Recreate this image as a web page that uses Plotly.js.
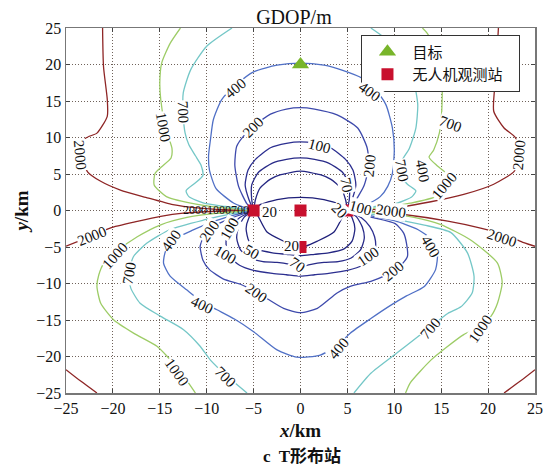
<!DOCTYPE html>
<html>
<head>
<meta charset="utf-8">
<script src="https://cdn.plot.ly/plotly-3.0.1.min.js"></script>
<style>html,body{margin:0;padding:0;background:#fff;}#chart{width:551px;height:466px;}</style>
</head>
<body>
<div id="chart"></div>
<script>
// ---- Stations and target (km) ----
const stationX = [-5, 0, 5, 0];
const stationY = [0, 0, 0, -5];
const targetX = [0];
const targetY = [20];

// ---- Contour lines: [x, y] in km ----
// GDOP = 2000
const c2000_UL = [[-21.1,25],[-21.0,19.7],[-20.6,15.2],[-20.6,12.9],[-21.7,10.6],[-22.9,9.9],[-23.3,7.6],[-22.7,5.3],[-21.3,4.0],[-19.2,2.8],[-16.5,1.8],[-13.6,0.8],[-11,0.35],[-8,0.1],[-5,0]];
const c2000_LL = [[-25,-4.9],[-22.5,-3.6],[-20.3,-2.4],[-17.4,-1.5],[-14.9,-0.8],[-12.5,-0.36],[-9,-0.1],[-5,0]];
const c2000_BL = [[-25,-21.8],[-23.4,-23.4],[-21.7,-25]];
const c2000_UR = [[21.1,25],[20.8,18.2],[20.6,13.6],[21.7,11.3],[22.9,10.0],[23.3,7.6],[22.8,5.4],[20.6,3.6],[17.4,2.2],[13.9,1.2],[10.7,0.5],[8,0.15],[5,0]];
const c2000_LR = [[5,0],[8,-0.2],[11.0,-0.55],[15.7,-1.45],[19.2,-2.4],[22,-3.4],[23.8,-4.4],[25,-4.9]];
const c2000_BR = [[21.7,-25],[23.4,-23.4],[25,-21.8]];
// GDOP = 1000
const c1000_UL = [[-12.8,25],[-13.9,22.9],[-14.8,20.2],[-15.0,17.5],[-14.9,15.2],[-14.5,12],[-14.0,9.8],[-13.7,8.5],[-13.8,7.2],[-14.8,6.0],[-15.5,5.1],[-15.6,3.5],[-14.3,1.9],[-11.7,1.0],[-9,0.45],[-5,0]];
const c1000_LL = [[-5,0],[-9,-0.4],[-12.1,-0.95],[-14.9,-1.96],[-17.4,-3.6],[-19.5,-5.5],[-21,-7.3],[-21.5,-8.8],[-21.7,-10.4],[-21.3,-12.7],[-19.9,-15.0],[-17.8,-16.8],[-15.3,-18.6],[-14.2,-20.0],[-13,-21.8],[-12,-23.5],[-11.2,-25]];
const c1000_UR = [[13.0,25],[13.5,24.3],[14.4,22.3],[15.0,19.8],[15.1,17.9],[15.1,15.2],[15.0,12.5],[14.8,10.6],[14.2,8.3],[13.7,7.3],[14.6,6.1],[15.5,5.1],[15.6,3.4],[14.4,1.9],[11.7,1.0],[9,0.45],[5,0]];
const c1000_LR = [[5,0],[9,-0.4],[12.1,-0.95],[14.9,-1.9],[18.1,-4.0],[21.0,-7.2],[21.5,-9.9],[21.0,-12.7],[20.3,-14.5],[19,-16],[17.4,-17.0],[15.5,-18.8],[13.9,-20.5],[11.7,-23.6],[11.2,-25]];
// GDOP = 700
const c700_UL = [[-7.3,25],[-10.0,22.5],[-11.7,19.3],[-12.5,16.1],[-12.5,13],[-12.3,10.6],[-11.9,9],[-11.2,7.5],[-10.6,6.2],[-10.4,4.8],[-11.3,3.7],[-12.2,2.7],[-11.9,1.9],[-10.3,1.0],[-8,0.55],[-5,0]];
const c700_LL = [[-5,0],[-7.5,-0.5],[-10.3,-1.3],[-13.9,-2.6],[-16.4,-4.5],[-17.8,-6.3],[-18.3,-8.5],[-18.1,-10.6],[-17.1,-12.7],[-14.9,-14.5],[-12.5,-16.3],[-10.7,-18.6],[-9.6,-20.5],[-8,-22.5],[-5.7,-25]];
const c700_UR = [[7.5,25],[9.3,23.3],[11.0,20.5],[12.1,17.5],[12.5,14.5],[12.3,11.3],[11.6,8.5],[10.8,6.8],[10.5,5],[11.4,3.6],[12.3,2.7],[11.9,1.9],[10.3,1.0],[8,0.55],[5,0]];
const c700_LR = [[5,0],[8,-0.6],[10.5,-1.3],[13.2,-2.0],[16.0,-3.0],[17.8,-5.8],[18.5,-9.0],[18.3,-11.3],[17.1,-13.2],[15.7,-14.1],[14,-15.8],[12.5,-17.3],[10.3,-19.5],[7.5,-22.3],[5.7,-25]];
// GDOP = 400
const c400_T = [[-5,0],[-7.1,1.0],[-9.0,3.0],[-9.7,5.5],[-9.8,7.5],[-9.6,9.7],[-9.3,12.4],[-8.4,15.2],[-6.8,17.3],[-5.0,19.0],[-2.5,19.9],[0,20.2],[2.5,19.9],[4.5,19.2],[6.6,18.1],[8.0,16.5],[9.1,14.5],[9.8,11.3],[10.0,8.3],[9.8,5.1],[9.3,3.3],[8.5,1.9],[7,0.8],[5,0]];
const c400_B = [[-5,0],[-7,-0.6],[-9,-1.4],[-11.5,-2.7],[-13.5,-4.0],[-14.4,-5.6],[-14.6,-7.2],[-13.9,-9.0],[-12.1,-10.9],[-10.5,-12.5],[-8.9,-13.6],[-7.0,-14.9],[-5.0,-16.6],[-2.5,-19.1],[-0.4,-20.1],[2.1,-19.8],[4,-18.4],[5.3,-16.8],[7.5,-14.8],[9.6,-13.0],[11.3,-11.7],[13.2,-10.4],[14.4,-8.1],[14.6,-5.8],[14,-4],[12.5,-2.6],[10,-1.4],[7,-0.6],[5,0]];
// GDOP = 200
const c200_T = [[-5,0],[-5.7,0.9],[-6.6,3.3],[-7.0,6.2],[-6.8,8.8],[-6.0,10.3],[-5.0,11.5],[-3.2,13.2],[-1.5,13.9],[0,14.1],[1.5,13.9],[3.9,13.1],[6.1,11.3],[7.1,8.6],[7.3,6.2],[6.8,3.5],[5.8,1.2],[5,0]];
const c200_B = [[-5,0],[-7.3,-1.0],[-9,-2.0],[-10.3,-3.6],[-10.7,-4.9],[-10.4,-6.8],[-9.7,-8.1],[-8.2,-9.4],[-6.4,-10.1],[-4.7,-11.2],[-3.4,-12.2],[-1.8,-13.4],[0,-14.0],[1.8,-13.4],[3.9,-11.3],[5.3,-10.4],[7.5,-9.7],[8.9,-9.0],[10.5,-7.8],[11.4,-6.3],[11.3,-4.5],[11.0,-3.1],[10.1,-1.8],[7.5,-0.9],[5,0]];
// GDOP = 100
const c100_T = [[-5,0],[-5.5,1.5],[-5.9,3.5],[-5.6,5.5],[-4.8,7.0],[-3.2,8.6],[-1.5,9.2],[0,9.4],[1.5,9.2],[3.2,8.6],[4.8,7.0],[5.6,5.5],[5.9,3.5],[5.5,1.5],[5,0]];
const c100_B = [[-5,0],[-6.5,-1.0],[-7.5,-2.4],[-7.9,-3.8],[-7.9,-5],[-7.5,-6.4],[-6.5,-7.5],[-5,-8.2],[-3,-8.6],[-1.5,-8.8],[0,-9.0],[1.5,-8.8],[3,-8.6],[5,-8.2],[6.6,-7.5],[7.6,-6.3],[8.0,-5],[7.9,-3.6],[7.4,-2.2],[6.5,-1.0],[5,0]];
// GDOP = 70
const c70_T = [[-5,0],[-5.2,1.5],[-5.2,3.5],[-4.5,5.2],[-3,6.5],[-1.5,7.0],[0,7.2],[1.5,7.0],[3,6.5],[4.5,5.2],[5.2,3.5],[5.2,1.5],[5,0]];
const c70_B = [[-5,0],[-6.0,-0.9],[-6.6,-2.3],[-6.8,-3.8],[-6.4,-5.4],[-5.4,-6.5],[-4,-7.0],[-2.5,-7.1],[-1,-7.4],[0,-7.7],[1,-7.4],[2.5,-7.1],[4,-7.0],[5.4,-6.5],[6.4,-5.4],[6.8,-3.8],[6.6,-2.3],[6.0,-0.9],[5,0]];
// GDOP = 50
const c50_T = [[-5,0],[-4.8,1.5],[-4.3,3.1],[-3.2,4.3],[-2.1,4.9],[0,5.4],[2.1,4.9],[3.2,4.3],[4.3,3.1],[4.8,1.5],[5,0]];
const c50_B = [[-5,0],[-5.5,-1.0],[-5.8,-2.5],[-5.5,-4.2],[-4.6,-5.3],[-3,-5.8],[-1.5,-6.0],[0,-6.2],[1.5,-6.0],[3,-5.8],[4.6,-5.3],[5.5,-4.2],[5.8,-2.5],[5.5,-1.0],[5,0]];
// GDOP = 20
const c20_T = [[-5,0],[-4.3,0.8],[-2.5,1.5],[0,1.8],[2.5,1.5],[4.3,0.8],[5,0]];
const c20_B = [[-5,0],[-4.6,-0.6],[-3.6,-2.9],[-1.8,-4.2],[-0.5,-4.9],[0,-5],[0.5,-4.9],[1.8,-4.2],[3.6,-2.9],[4.6,-0.6],[5,0]];

// ---- Contour labels ----
const labelText  = ["2000","1000","700","400","200","2000","1000","700","400","200","100","100","50","70","20","20","1000","700","400","200","400","200","100","700","1000","400","2000","2000","100","20","70","200","700","400","1000","700","2000","400","100"];
const labelX     = [-23.5,-14.6,-12.5,-6.9,-5.0,-22.2,-19.8,-18.3,-13.7,-9.7,-7.6,-8.0,-5.2,-0.3,-1.0,-3.3,-13.2,-8.0,-10.5,-4.7,4.1,9.9,7.3,13.9,19.2,13.9,21.5,9.6,6.4,4.2,4.9,7.4,10.8,13.0,15.3,16.0,23.3,7.4,2.0];
const labelY     = [7.6,11.5,13.5,16.8,11.4,-3.5,-6.2,-8.5,-4.1,-2.8,-2.5,-6.1,-5.7,-7.4,-4.8,-0.2,-22.1,-22.8,-12.9,-11.3,-18.8,-8.3,-6.3,-16.1,-16.3,-5.0,-3.7,0.0,0.3,0.0,3.5,6.2,5.4,5.4,3.4,11.8,7.6,16.2,8.8];
const labelAngle = [85,80,88,-40,-45,-22,-48,-80,-55,-55,-60,30,30,35,0,0,55,45,25,35,-50,-40,-35,-50,-55,60,18,8,15,45,80,-85,80,80,-50,20,-85,35,15];
// crowded label group left of the west station
const clusterText = ["2000","1000","700"];
const clusterX = [-11.3,-8.7,-6.5];
const clusterY = [0.1,0.1,0.1];

// ---- Build figure ----
const serif = "Liberation Serif, Times New Roman, Noto Sans CJK SC, serif";
const sets = [
  {color:'#8e2525', segs:[c2000_UL,c2000_LL,c2000_BL,c2000_UR,c2000_LR,c2000_BR]},
  {color:'#9dcc66', segs:[c1000_UL,c1000_LL,c1000_UR,c1000_LR]},
  {color:'#74c7c7', segs:[c700_UL,c700_LL,c700_UR,c700_LR]},
  {color:'#5070c6', segs:[c400_T,c400_B]},
  {color:'#3e4aac', segs:[c200_T,c200_B]},
  {color:'#2c2f90', segs:[c100_T,c100_B]},
  {color:'#282a88', segs:[c70_T,c70_B]},
  {color:'#242682', segs:[c50_T,c50_B]},
  {color:'#1f207a', segs:[c20_T,c20_B]}
];
const traces = [];
sets.forEach(s => {
  s.segs.forEach(seg => {
    traces.push({
      type:'scatter', mode:'lines',
      x: seg.map(p => p[0]), y: seg.map(p => p[1]),
      line:{color:s.color, width:1.3, shape:'spline', smoothing:0.6},
      showlegend:false, hoverinfo:'skip'
    });
  });
});
traces.push({
  type:'scatter', mode:'markers', name:'目标',
  x: targetX, y: targetY,
  marker:{symbol:'triangle-up', size:15, color:'#78b52a'}
});
traces.push({
  type:'scatter', mode:'markers', name:'无人机观测站\u00a0\u00a0\u00a0',
  x: stationX, y: stationY,
  marker:{symbol:'square', size:12, color:'#c8102e'}
});

const annotations = [];
labelText.forEach((t,i) => {
  annotations.push({
    x: labelX[i], y: labelY[i], xref:'x', yref:'y', text:t, showarrow:false,
    textangle: labelAngle[i], bgcolor:'#ffffff', borderpad:0,
    font:{family:serif, size:15, color:'#111'}
  });
});
clusterText.forEach((t,i) => {
  annotations.push({
    x: clusterX[i], y: clusterY[i], xref:'x', yref:'y', text:t, showarrow:false,
    font:{family:serif, size:12, color:'#111'}
  });
});
annotations.push({
  x: 0.503, y: -0.175, xref:'paper', yref:'paper', text:'<b>c  T形布站</b>', showarrow:false,
  yanchor:'middle', font:{family:serif, size:17, color:'#111'}
});

const axisCommon = {
  range:[-25,25], dtick:5, tick0:-25, showgrid:true, gridcolor:'#6f625a', griddash:'1px,2px', gridwidth:1,
  zeroline:false, showline:true, linecolor:'#777', linewidth:1.5, mirror:'ticks',
  ticks:'inside', ticklen:4, tickcolor:'#444',
  tickfont:{family:serif, size:16, color:'#111'}
};
const layout = {
  width:551, height:466,
  margin:{l:66, r:16, t:28, b:73},
  paper_bgcolor:'#ffffff', plot_bgcolor:'#ffffff',
  title:{text:'GDOP/m', font:{family:serif, size:20, color:'#111'}, xref:'paper', x:0.486, xanchor:'center', yref:'container', y:0.963, yanchor:'middle'},
  xaxis: Object.assign({}, axisCommon, {title:{text:'<b><i>x</i>/km</b>', font:{family:serif, size:19, color:'#111'}, standoff:8}}),
  yaxis: Object.assign({}, axisCommon, {title:{text:'<b><i>y</i>/km</b>', font:{family:serif, size:19, color:'#111'}, standoff:2}}),
  showlegend:true,
  legend:{x:0.63, y:0.982, xanchor:'left', yanchor:'top', bgcolor:'#ffffff', bordercolor:'#333', borderwidth:1,
          font:{family:serif, size:15, color:'#111'}, itemwidth:40, tracegroupgap:0},
  annotations: annotations,
  hovermode:false
};
Plotly.newPlot('chart', traces, layout, {displayModeBar:false, staticPlot:true});
</script>
</body>
</html>
